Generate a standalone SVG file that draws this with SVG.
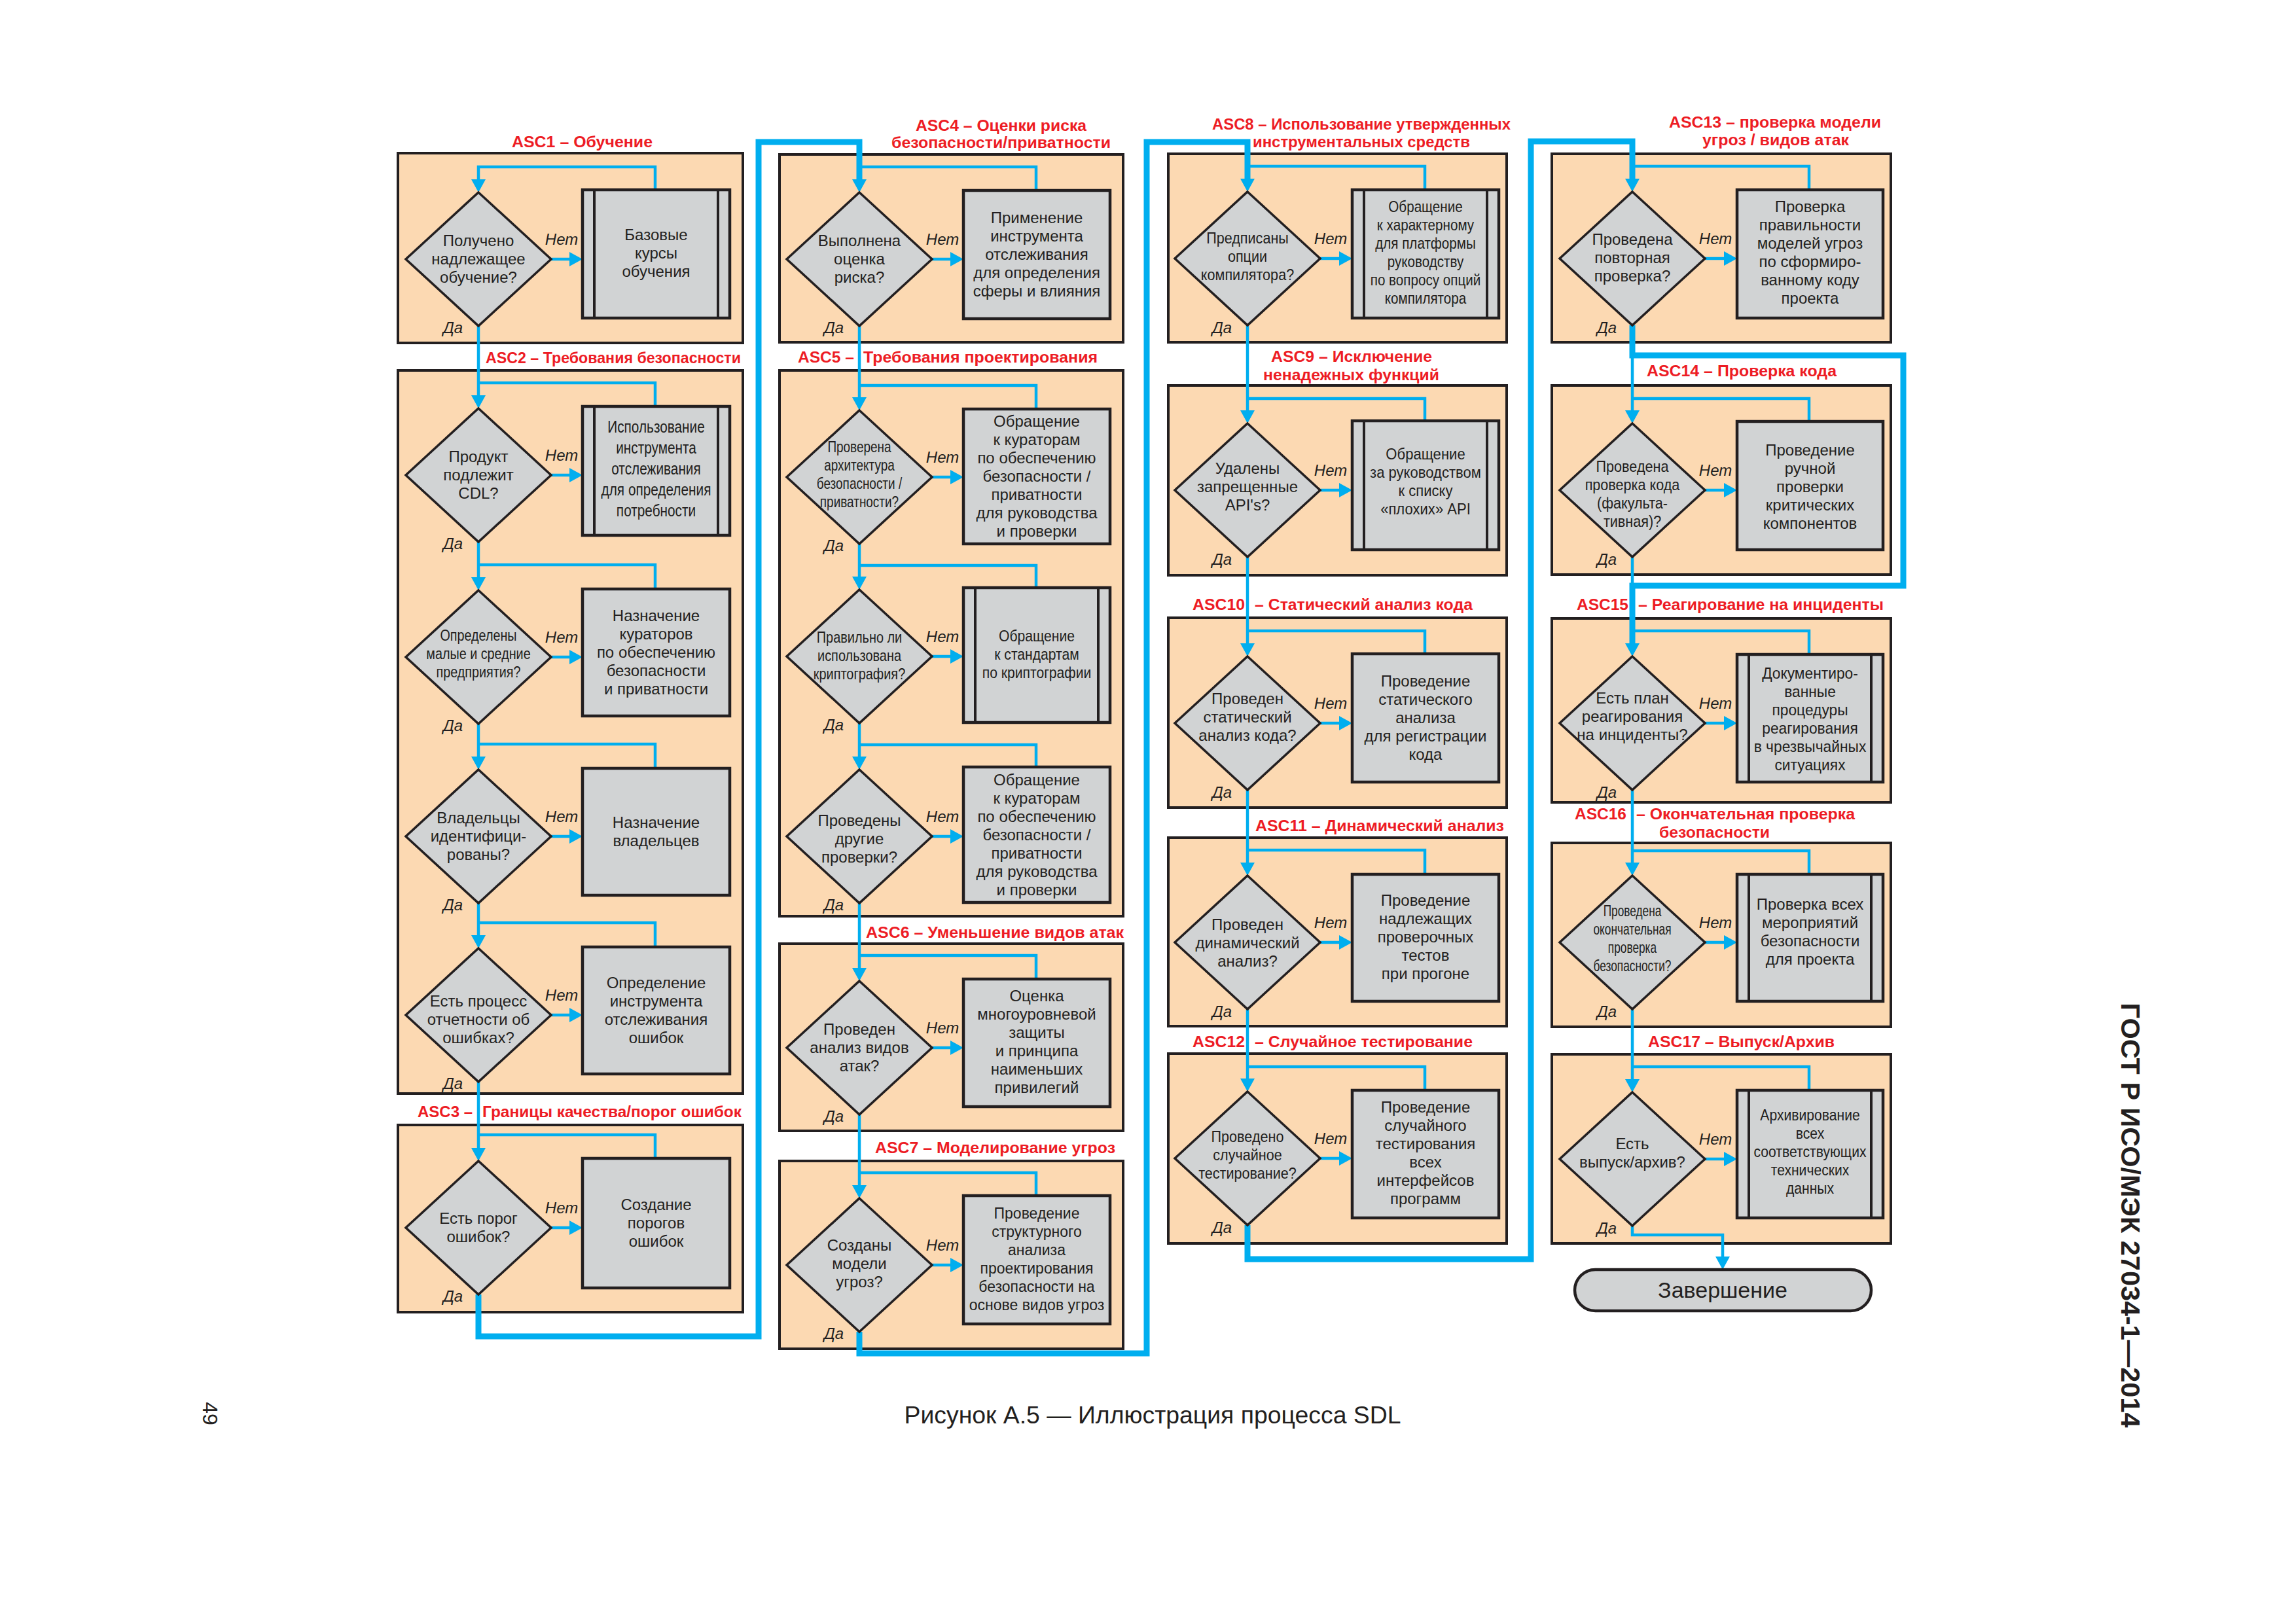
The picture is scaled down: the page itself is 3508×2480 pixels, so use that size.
<svg xmlns="http://www.w3.org/2000/svg" width="3508" height="2480" viewBox="0 0 3508 2480">
<defs>
<style>
.sec{fill:#FCD9B2;stroke:#231F20;stroke-width:4}
.dia{fill:#D1D3D4;stroke:#231F20;stroke-width:3.5}
.proc{fill:#D1D3D4;stroke:#231F20;stroke-width:4.5}
.bar{stroke:#231F20;stroke-width:4;fill:none}
.ttl{font-family:"Liberation Sans",Arial,sans-serif;font-weight:bold;font-size:24px;fill:#ED1C24}
.t{font-family:"Liberation Sans",Arial,sans-serif;font-size:24px;fill:#231F20;text-anchor:middle}
.lbl{font-family:"Liberation Sans",Arial,sans-serif;font-size:24px;font-style:italic;fill:#231F20;text-anchor:middle}
.c{fill:none;stroke:#00AEEF;stroke-width:4.5}
.ck{fill:none;stroke:#00AEEF;stroke-width:9}
.pg{font-family:"Liberation Sans",Arial,sans-serif;fill:#231F20}
</style>
<marker id="ah" markerUnits="userSpaceOnUse" markerWidth="20" markerHeight="22" refX="0" refY="11" orient="auto" viewBox="0 0 20 22"><path d="M0,0 L20,11 L0,22 z" fill="#00AEEF"/></marker>
</defs>
<rect width="3508" height="2480" fill="#FFFFFF"/>

<!-- sections -->
<g id="s1"><rect class="sec" x="608" y="234" width="527" height="290"/><text class="ttl" x="782" y="225" textLength="215" lengthAdjust="spacingAndGlyphs">ASC1 – Обучение</text></g>
<g id="s2"><rect class="sec" x="608" y="566" width="527" height="1105"/><text class="ttl" x="742" y="555" textLength="390" lengthAdjust="spacingAndGlyphs">ASC2 – Требования безопасности</text></g>
<g id="s3"><rect class="sec" x="608" y="1719" width="527" height="286"/><text class="ttl" x="638" y="1707" textLength="84" lengthAdjust="spacingAndGlyphs">ASC3 –</text><text class="ttl" x="737" y="1707" textLength="396" lengthAdjust="spacingAndGlyphs">Границы качества/порог ошибок</text></g>
<g id="s4"><rect class="sec" x="1191" y="236" width="525" height="287"/><text class="ttl" x="1399" y="200" textLength="261" lengthAdjust="spacingAndGlyphs">ASC4 – Оценки риска</text><text class="ttl" x="1362" y="226" textLength="335" lengthAdjust="spacingAndGlyphs">безопасности/приватности</text></g>
<g id="s5"><rect class="sec" x="1191" y="566" width="525" height="834"/><text class="ttl" x="1219" y="554" textLength="86" lengthAdjust="spacingAndGlyphs">ASC5 –</text><text class="ttl" x="1319" y="554" textLength="358" lengthAdjust="spacingAndGlyphs">Требования проектирования</text></g>
<g id="s6"><rect class="sec" x="1191" y="1442" width="525" height="286"/><text class="ttl" x="1323" y="1433" textLength="394" lengthAdjust="spacingAndGlyphs">ASC6 – Уменьшение видов атак</text></g>
<g id="s7"><rect class="sec" x="1191" y="1774" width="525" height="287"/><text class="ttl" x="1337" y="1762" textLength="367" lengthAdjust="spacingAndGlyphs">ASC7 – Моделирование угроз</text></g>
<g id="s8"><rect class="sec" x="1785" y="235" width="517" height="288"/><text class="ttl" x="1852" y="198" textLength="456" lengthAdjust="spacingAndGlyphs">ASC8 – Использование утвержденных</text><text class="ttl" x="1914" y="225" textLength="332" lengthAdjust="spacingAndGlyphs">инструментальных средств</text></g>
<g id="s9"><rect class="sec" x="1785" y="589" width="517" height="290"/><text class="ttl" x="1942" y="553" textLength="246" lengthAdjust="spacingAndGlyphs">ASC9 – Исключение</text><text class="ttl" x="1930" y="581" textLength="269" lengthAdjust="spacingAndGlyphs">ненадежных функций</text></g>
<g id="s10"><rect class="sec" x="1785" y="944" width="517" height="290"/><text class="ttl" x="1822" y="932" textLength="80" lengthAdjust="spacingAndGlyphs">ASC10</text><text class="ttl" x="1917" y="932" textLength="333" lengthAdjust="spacingAndGlyphs">– Статический анализ кода</text></g>
<g id="s11"><rect class="sec" x="1785" y="1280" width="517" height="288"/><text class="ttl" x="1918" y="1270" textLength="380" lengthAdjust="spacingAndGlyphs">ASC11 – Динамический анализ</text></g>
<g id="s12"><rect class="sec" x="1785" y="1610" width="517" height="290"/><text class="ttl" x="1822" y="1600" textLength="80" lengthAdjust="spacingAndGlyphs">ASC12</text><text class="ttl" x="1917" y="1600" textLength="333" lengthAdjust="spacingAndGlyphs">– Случайное тестирование</text></g>
<g id="s13"><rect class="sec" x="2371" y="235" width="518" height="288"/><text class="ttl" x="2550" y="195" textLength="324" lengthAdjust="spacingAndGlyphs">ASC13 – проверка модели</text><text class="ttl" x="2601" y="222" textLength="224" lengthAdjust="spacingAndGlyphs">угроз / видов атак</text></g>
<g id="s14"><rect class="sec" x="2371" y="589" width="518" height="289"/><text class="ttl" x="2516" y="575" textLength="290" lengthAdjust="spacingAndGlyphs">ASC14 – Проверка кода</text></g>
<g id="s15"><rect class="sec" x="2371" y="945" width="518" height="281"/><text class="ttl" x="2409" y="932" textLength="79" lengthAdjust="spacingAndGlyphs">ASC15</text><text class="ttl" x="2503" y="932" textLength="375" lengthAdjust="spacingAndGlyphs">– Реагирование на инциденты</text></g>
<g id="s16"><rect class="sec" x="2371" y="1288" width="518" height="281"/><text class="ttl" x="2406" y="1252" textLength="79" lengthAdjust="spacingAndGlyphs">ASC16</text><text class="ttl" x="2500" y="1252" textLength="334" lengthAdjust="spacingAndGlyphs">– Окончательная проверка</text><text class="ttl" x="2535" y="1280" textLength="169" lengthAdjust="spacingAndGlyphs">безопасности</text></g>
<g id="s17"><rect class="sec" x="2371" y="1611" width="518" height="289"/><text class="ttl" x="2518" y="1600" textLength="285" lengthAdjust="spacingAndGlyphs">ASC17 – Выпуск/Архив</text></g>

<!-- connectors -->
<g id="connectors">
<path class="c" d="M1001,290 V255 H731 V274" marker-end="url(#ah)"/>
<path class="c" d="M731,498 V604" marker-end="url(#ah)"/>
<path class="c" d="M1001,621 V585 H731"/>
<path class="c" d="M731,828 V882" marker-end="url(#ah)"/>
<path class="c" d="M1001,900 V863 H731"/>
<path class="c" d="M731,1106 V1156" marker-end="url(#ah)"/>
<path class="c" d="M1001,1174 V1137 H731"/>
<path class="c" d="M731,1380 V1429" marker-end="url(#ah)"/>
<path class="c" d="M1001,1447 V1410 H731"/>
<path class="c" d="M731,1653 V1754" marker-end="url(#ah)"/>
<path class="c" d="M1001,1770 V1734 H731"/>
<path class="c" d="M842,396 H870" marker-end="url(#ah)"/>
<path class="c" d="M842,726 H870" marker-end="url(#ah)"/>
<path class="c" d="M842,1004 H870" marker-end="url(#ah)"/>
<path class="c" d="M842,1278 H870" marker-end="url(#ah)"/>
<path class="c" d="M842,1551 H870" marker-end="url(#ah)"/>
<path class="c" d="M842,1876 H870" marker-end="url(#ah)"/>
<path class="ck" d="M731,1978 V2042 H1159 V217 H1313 V274" marker-end="url(#ah)"/>

<path class="c" d="M1583,291 V255 H1313"/>
<path class="c" d="M1313,498 V607" marker-end="url(#ah)"/>
<path class="c" d="M1583,625 V589 H1313"/>
<path class="c" d="M1313,831 V881" marker-end="url(#ah)"/>
<path class="c" d="M1583,898 V864 H1313"/>
<path class="c" d="M1313,1105 V1156" marker-end="url(#ah)"/>
<path class="c" d="M1583,1172 V1138 H1313"/>
<path class="c" d="M1313,1380 V1479" marker-end="url(#ah)"/>
<path class="c" d="M1583,1496 V1460 H1313"/>
<path class="c" d="M1313,1703 V1811" marker-end="url(#ah)"/>
<path class="c" d="M1583,1827 V1792 H1313"/>
<path class="c" d="M1424,396 H1452" marker-end="url(#ah)"/>
<path class="c" d="M1424,729 H1452" marker-end="url(#ah)"/>
<path class="c" d="M1424,1003 H1452" marker-end="url(#ah)"/>
<path class="c" d="M1424,1278 H1452" marker-end="url(#ah)"/>
<path class="c" d="M1424,1601 H1452" marker-end="url(#ah)"/>
<path class="c" d="M1424,1933 H1452" marker-end="url(#ah)"/>
<path class="ck" d="M1313,2035 V2068 H1752 V217 H1906 V273" marker-end="url(#ah)"/>

<path class="c" d="M2177,290 V254 H1906"/>
<path class="c" d="M1906,497 V627" marker-end="url(#ah)"/>
<path class="c" d="M2177,643 V609 H1906"/>
<path class="c" d="M1906,851 V983" marker-end="url(#ah)"/>
<path class="c" d="M2177,999 V964 H1906"/>
<path class="c" d="M1906,1207 V1318" marker-end="url(#ah)"/>
<path class="c" d="M2177,1336 V1299 H1906"/>
<path class="c" d="M1906,1542 V1648" marker-end="url(#ah)"/>
<path class="c" d="M2177,1666 V1630 H1906"/>
<path class="c" d="M2017,395 H2046" marker-end="url(#ah)"/>
<path class="c" d="M2017,749 H2046" marker-end="url(#ah)"/>
<path class="c" d="M2017,1105 H2046" marker-end="url(#ah)"/>
<path class="c" d="M2017,1440 H2046" marker-end="url(#ah)"/>
<path class="c" d="M2017,1770 H2046" marker-end="url(#ah)"/>
<path class="ck" d="M1906,1872 V1924 H2339 V216 H2494 V273" marker-end="url(#ah)"/>

<path class="c" d="M2764,290 V254 H2494"/>
<path class="c" d="M2494,543 V627" marker-end="url(#ah)"/>
<path class="c" d="M2764,644 V609 H2494"/>
<path class="c" d="M2494,851 V895"/>
<path class="ck" d="M2494,497 V543 H2908 V895 H2494 V983" marker-end="url(#ah)"/>
<path class="c" d="M2764,1000 V964 H2494"/>
<path class="c" d="M2494,1207 V1318" marker-end="url(#ah)"/>
<path class="c" d="M2764,1336 V1300 H2494"/>
<path class="c" d="M2494,1542 V1649" marker-end="url(#ah)"/>
<path class="c" d="M2764,1666 V1630 H2494"/>
<path class="c" d="M2494,1873 V1887 H2632 V1920" marker-end="url(#ah)"/>
<path class="c" d="M2605,395 H2634" marker-end="url(#ah)"/>
<path class="c" d="M2605,749 H2634" marker-end="url(#ah)"/>
<path class="c" d="M2605,1105 H2634" marker-end="url(#ah)"/>
<path class="c" d="M2605,1440 H2634" marker-end="url(#ah)"/>
<path class="c" d="M2605,1771 H2634" marker-end="url(#ah)"/>

<g class="lbl">
<text class="lbl" x="858" y="374">Нет</text><text class="lbl" x="692" y="509">Да</text>
<text class="lbl" x="858" y="704">Нет</text><text class="lbl" x="692" y="839">Да</text>
<text class="lbl" x="858" y="982">Нет</text><text class="lbl" x="692" y="1117">Да</text>
<text class="lbl" x="858" y="1256">Нет</text><text class="lbl" x="692" y="1391">Да</text>
<text class="lbl" x="858" y="1529">Нет</text><text class="lbl" x="692" y="1664">Да</text>
<text class="lbl" x="858" y="1854">Нет</text><text class="lbl" x="692" y="1989">Да</text>
<text class="lbl" x="1440" y="374">Нет</text><text class="lbl" x="1274" y="509">Да</text>
<text class="lbl" x="1440" y="707">Нет</text><text class="lbl" x="1274" y="842">Да</text>
<text class="lbl" x="1440" y="981">Нет</text><text class="lbl" x="1274" y="1116">Да</text>
<text class="lbl" x="1440" y="1256">Нет</text><text class="lbl" x="1274" y="1391">Да</text>
<text class="lbl" x="1440" y="1579">Нет</text><text class="lbl" x="1274" y="1714">Да</text>
<text class="lbl" x="1440" y="1911">Нет</text><text class="lbl" x="1274" y="2046">Да</text>
<text class="lbl" x="2033" y="373">Нет</text><text class="lbl" x="1867" y="509">Да</text>
<text class="lbl" x="2033" y="727">Нет</text><text class="lbl" x="1867" y="863">Да</text>
<text class="lbl" x="2033" y="1083">Нет</text><text class="lbl" x="1867" y="1219">Да</text>
<text class="lbl" x="2033" y="1418">Нет</text><text class="lbl" x="1867" y="1554">Да</text>
<text class="lbl" x="2033" y="1748">Нет</text><text class="lbl" x="1867" y="1884">Да</text>
<text class="lbl" x="2621" y="373">Нет</text><text class="lbl" x="2455" y="509">Да</text>
<text class="lbl" x="2621" y="727">Нет</text><text class="lbl" x="2455" y="863">Да</text>
<text class="lbl" x="2621" y="1083">Нет</text><text class="lbl" x="2455" y="1219">Да</text>
<text class="lbl" x="2621" y="1418">Нет</text><text class="lbl" x="2455" y="1554">Да</text>
<text class="lbl" x="2621" y="1749">Нет</text><text class="lbl" x="2455" y="1885">Да</text>
</g>
</g>

<!-- column 1 nodes -->
<g id="n1"><polygon class="dia" points="731,294 842,396 731,498 620,396"/><text class="t"><tspan x="731" y="376">Получено</tspan><tspan x="731" y="404">надлежащее</tspan><tspan x="731" y="432">обучение?</tspan></text></g>
<g id="p1"><rect class="proc" x="890" y="290" width="225" height="196"/><line class="bar" x1="908" y1="290" x2="908" y2="486"/><line class="bar" x1="1097" y1="290" x2="1097" y2="486"/><text class="t"><tspan x="1002.5" y="367">Базовые</tspan><tspan x="1002.5" y="395">курсы</tspan><tspan x="1002.5" y="423">обучения</tspan></text></g>
<g id="n2"><polygon class="dia" points="731,624 842,726 731,828 620,726"/><text class="t"><tspan x="731" y="706">Продукт</tspan><tspan x="731" y="734">подлежит</tspan><tspan x="731" y="762">CDL?</tspan></text></g>
<g id="p2"><rect class="proc" x="890" y="621" width="225" height="197"/><line class="bar" x1="908" y1="621" x2="908" y2="818"/><line class="bar" x1="1097" y1="621" x2="1097" y2="818"/><text class="t" style="font-size:26px" transform="translate(1002.5 0) scale(0.8 1)"><tspan x="0" y="661">Использование</tspan><tspan x="0" y="693">инструмента</tspan><tspan x="0" y="725">отслеживания</tspan><tspan x="0" y="757">для определения</tspan><tspan x="0" y="789">потребности</tspan></text></g>
<g id="n3"><polygon class="dia" points="731,902 842,1004 731,1106 620,1004"/><text class="t" style="font-size:23px" transform="translate(731 0) scale(0.86 1)"><tspan x="0" y="979">Определены</tspan><tspan x="0" y="1007">малые и средние</tspan><tspan x="0" y="1035">предприятия?</tspan></text></g>
<g id="p3"><rect class="proc" x="890" y="900" width="225" height="194"/><text class="t"><tspan x="1002.5" y="949">Назначение</tspan><tspan x="1002.5" y="977">кураторов</tspan><tspan x="1002.5" y="1005">по обеспечению</tspan><tspan x="1002.5" y="1033">безопасности</tspan><tspan x="1002.5" y="1061">и приватности</tspan></text></g>
<g id="n4"><polygon class="dia" points="731,1176 842,1278 731,1380 620,1278"/><text class="t"><tspan x="731" y="1258">Владельцы</tspan><tspan x="731" y="1286">идентифици-</tspan><tspan x="731" y="1314">рованы?</tspan></text></g>
<g id="p4"><rect class="proc" x="890" y="1174" width="225" height="194"/><text class="t"><tspan x="1002.5" y="1265">Назначение</tspan><tspan x="1002.5" y="1293">владельцев</tspan></text></g>
<g id="n5"><polygon class="dia" points="731,1449 842,1551 731,1653 620,1551"/><text class="t"><tspan x="731" y="1538">Есть процесс</tspan><tspan x="731" y="1566">отчетности об</tspan><tspan x="731" y="1594">ошибках?</tspan></text></g>
<g id="p5"><rect class="proc" x="890" y="1447" width="225" height="194"/><text class="t"><tspan x="1002.5" y="1510">Определение</tspan><tspan x="1002.5" y="1538">инструмента</tspan><tspan x="1002.5" y="1566">отслеживания</tspan><tspan x="1002.5" y="1594">ошибок</tspan></text></g>
<g id="n6"><polygon class="dia" points="731,1774 842,1876 731,1978 620,1876"/><text class="t"><tspan x="731" y="1870">Есть порог</tspan><tspan x="731" y="1898">ошибок?</tspan></text></g>
<g id="p6"><rect class="proc" x="890" y="1770" width="225" height="198"/><text class="t"><tspan x="1002.5" y="1849">Создание</tspan><tspan x="1002.5" y="1877">порогов</tspan><tspan x="1002.5" y="1905">ошибок</tspan></text></g>

<!-- column 2 nodes -->
<g id="n7"><polygon class="dia" points="1313,294 1424,396 1313,498 1202,396"/><text class="t"><tspan x="1313" y="376">Выполнена</tspan><tspan x="1313" y="404">оценка</tspan><tspan x="1313" y="432">риска?</tspan></text></g>
<g id="p7"><rect class="proc" x="1472" y="291" width="224" height="196"/><text class="t"><tspan x="1584" y="341">Применение</tspan><tspan x="1584" y="369">инструмента</tspan><tspan x="1584" y="397">отслеживания</tspan><tspan x="1584" y="425">для определения</tspan><tspan x="1584" y="453">сферы и влияния</tspan></text></g>
<g id="n8"><polygon class="dia" points="1313,627 1424,729 1313,831 1202,729"/><text class="t" transform="translate(1313 0) scale(0.79 1)"><tspan x="0" y="691">Проверена</tspan><tspan x="0" y="719">архитектура</tspan><tspan x="0" y="747">безопасности /</tspan><tspan x="0" y="775">приватности?</tspan></text></g>
<g id="p8"><rect class="proc" x="1472" y="625" width="224" height="206"/><text class="t"><tspan x="1584" y="652">Обращение</tspan><tspan x="1584" y="680">к кураторам</tspan><tspan x="1584" y="708">по обеспечению</tspan><tspan x="1584" y="736">безопасности /</tspan><tspan x="1584" y="764">приватности</tspan><tspan x="1584" y="792">для руководства</tspan><tspan x="1584" y="820">и проверки</tspan></text></g>
<g id="n9"><polygon class="dia" points="1313,901 1424,1003 1313,1105 1202,1003"/><text class="t" transform="translate(1313 0) scale(0.83 1)"><tspan x="0" y="982">Правильно ли</tspan><tspan x="0" y="1010">использована</tspan><tspan x="0" y="1038">криптография?</tspan></text></g>
<g id="p9"><rect class="proc" x="1472" y="898" width="224" height="206"/><line class="bar" x1="1490" y1="898" x2="1490" y2="1104"/><line class="bar" x1="1678" y1="898" x2="1678" y2="1104"/><text class="t" transform="translate(1584 0) scale(0.88 1)"><tspan x="0" y="980">Обращение</tspan><tspan x="0" y="1008">к стандартам</tspan><tspan x="0" y="1036">по криптографии</tspan></text></g>
<g id="n10"><polygon class="dia" points="1313,1176 1424,1278 1313,1380 1202,1278"/><text class="t"><tspan x="1313" y="1262">Проведены</tspan><tspan x="1313" y="1290">другие</tspan><tspan x="1313" y="1318">проверки?</tspan></text></g>
<g id="p10"><rect class="proc" x="1472" y="1172" width="224" height="207"/><text class="t"><tspan x="1584" y="1200">Обращение</tspan><tspan x="1584" y="1228">к кураторам</tspan><tspan x="1584" y="1256">по обеспечению</tspan><tspan x="1584" y="1284">безопасности /</tspan><tspan x="1584" y="1312">приватности</tspan><tspan x="1584" y="1340">для руководства</tspan><tspan x="1584" y="1368">и проверки</tspan></text></g>
<g id="n11"><polygon class="dia" points="1313,1499 1424,1601 1313,1703 1202,1601"/><text class="t"><tspan x="1313" y="1581">Проведен</tspan><tspan x="1313" y="1609">анализ видов</tspan><tspan x="1313" y="1637">атак?</tspan></text></g>
<g id="p11"><rect class="proc" x="1472" y="1496" width="224" height="195"/><text class="t"><tspan x="1584" y="1530">Оценка</tspan><tspan x="1584" y="1558">многоуровневой</tspan><tspan x="1584" y="1586">защиты</tspan><tspan x="1584" y="1614">и принципа</tspan><tspan x="1584" y="1642">наименьших</tspan><tspan x="1584" y="1670">привилегий</tspan></text></g>
<g id="n12"><polygon class="dia" points="1313,1831 1424,1933 1313,2035 1202,1933"/><text class="t"><tspan x="1313" y="1911">Созданы</tspan><tspan x="1313" y="1939">модели</tspan><tspan x="1313" y="1967">угроз?</tspan></text></g>
<g id="p12"><rect class="proc" x="1472" y="1827" width="224" height="196"/><text class="t" style="font-size:23px"><tspan x="1584" y="1862">Проведение</tspan><tspan x="1584" y="1890">структурного</tspan><tspan x="1584" y="1918">анализа</tspan><tspan x="1584" y="1946">проектирования</tspan><tspan x="1584" y="1974">безопасности на</tspan><tspan x="1584" y="2002">основе видов угроз</tspan></text></g>

<!-- column 3 nodes -->
<g id="n13"><polygon class="dia" points="1906,293 2017,395 1906,497 1795,395"/><text class="t" transform="translate(1906 0) scale(0.9 1)"><tspan x="0" y="372">Предписаны</tspan><tspan x="0" y="400">опции</tspan><tspan x="0" y="428">компилятора?</tspan></text></g>
<g id="p13"><rect class="proc" x="2066" y="290" width="224" height="196"/><line class="bar" x1="2084" y1="290" x2="2084" y2="486"/><line class="bar" x1="2272" y1="290" x2="2272" y2="486"/><text class="t" transform="translate(2178 0) scale(0.86 1)"><tspan x="0" y="324">Обращение</tspan><tspan x="0" y="352">к характерному</tspan><tspan x="0" y="380">для платформы</tspan><tspan x="0" y="408">руководству</tspan><tspan x="0" y="436">по вопросу опций</tspan><tspan x="0" y="464">компилятора</tspan></text></g>
<g id="n14"><polygon class="dia" points="1906,647 2017,749 1906,851 1795,749"/><text class="t"><tspan x="1906" y="724">Удалены</tspan><tspan x="1906" y="752">запрещенные</tspan><tspan x="1906" y="780">API's?</tspan></text></g>
<g id="p14"><rect class="proc" x="2066" y="643" width="224" height="197"/><line class="bar" x1="2084" y1="643" x2="2084" y2="840"/><line class="bar" x1="2272" y1="643" x2="2272" y2="840"/><text class="t" transform="translate(2178 0) scale(0.92 1)"><tspan x="0" y="702">Обращение</tspan><tspan x="0" y="730">за руководством</tspan><tspan x="0" y="758">к списку</tspan><tspan x="0" y="786">«плохих» API</tspan></text></g>
<g id="n15"><polygon class="dia" points="1906,1003 2017,1105 1906,1207 1795,1105"/><text class="t"><tspan x="1906" y="1076">Проведен</tspan><tspan x="1906" y="1104">статический</tspan><tspan x="1906" y="1132">анализ кода?</tspan></text></g>
<g id="p15"><rect class="proc" x="2066" y="999" width="224" height="196"/><text class="t"><tspan x="2178" y="1049">Проведение</tspan><tspan x="2178" y="1077">статического</tspan><tspan x="2178" y="1105">анализа</tspan><tspan x="2178" y="1133">для регистрации</tspan><tspan x="2178" y="1161">кода</tspan></text></g>
<g id="n16"><polygon class="dia" points="1906,1338 2017,1440 1906,1542 1795,1440"/><text class="t"><tspan x="1906" y="1421">Проведен</tspan><tspan x="1906" y="1449">динамический</tspan><tspan x="1906" y="1477">анализ?</tspan></text></g>
<g id="p16"><rect class="proc" x="2066" y="1336" width="224" height="194"/><text class="t"><tspan x="2178" y="1384">Проведение</tspan><tspan x="2178" y="1412">надлежащих</tspan><tspan x="2178" y="1440">проверочных</tspan><tspan x="2178" y="1468">тестов</tspan><tspan x="2178" y="1496">при прогоне</tspan></text></g>
<g id="n17"><polygon class="dia" points="1906,1668 2017,1770 1906,1872 1795,1770"/><text class="t" transform="translate(1906 0) scale(0.9 1)"><tspan x="0" y="1745">Проведено</tspan><tspan x="0" y="1773">случайное</tspan><tspan x="0" y="1801">тестирование?</tspan></text></g>
<g id="p17"><rect class="proc" x="2066" y="1666" width="224" height="195"/><text class="t"><tspan x="2178" y="1700">Проведение</tspan><tspan x="2178" y="1728">случайного</tspan><tspan x="2178" y="1756">тестирования</tspan><tspan x="2178" y="1784">всех</tspan><tspan x="2178" y="1812">интерфейсов</tspan><tspan x="2178" y="1840">программ</tspan></text></g>

<!-- column 4 nodes -->
<g id="n18"><polygon class="dia" points="2494,293 2605,395 2494,497 2383,395"/><text class="t"><tspan x="2494" y="374">Проведена</tspan><tspan x="2494" y="402">повторная</tspan><tspan x="2494" y="430">проверка?</tspan></text></g>
<g id="p18"><rect class="proc" x="2654" y="290" width="223" height="196"/><text class="t"><tspan x="2765.5" y="324">Проверка</tspan><tspan x="2765.5" y="352">правильности</tspan><tspan x="2765.5" y="380">моделей угроз</tspan><tspan x="2765.5" y="408">по сформиро-</tspan><tspan x="2765.5" y="436">ванному коду</tspan><tspan x="2765.5" y="464">проекта</tspan></text></g>
<g id="n19"><polygon class="dia" points="2494,647 2605,749 2494,851 2383,749"/><text class="t" transform="translate(2494 0) scale(0.9 1)"><tspan x="0" y="721">Проведена</tspan><tspan x="0" y="749">проверка кода</tspan><tspan x="0" y="777">(факульта-</tspan><tspan x="0" y="805">тивная)?</tspan></text></g>
<g id="p19"><rect class="proc" x="2654" y="644" width="223" height="196"/><text class="t"><tspan x="2765.5" y="696">Проведение</tspan><tspan x="2765.5" y="724">ручной</tspan><tspan x="2765.5" y="752">проверки</tspan><tspan x="2765.5" y="780">критических</tspan><tspan x="2765.5" y="808">компонентов</tspan></text></g>
<g id="n20"><polygon class="dia" points="2494,1003 2605,1105 2494,1207 2383,1105"/><text class="t"><tspan x="2494" y="1075">Есть план</tspan><tspan x="2494" y="1103">реагирования</tspan><tspan x="2494" y="1131">на инциденты?</tspan></text></g>
<g id="p20"><rect class="proc" x="2654" y="1000" width="223" height="195"/><line class="bar" x1="2672" y1="1000" x2="2672" y2="1195"/><line class="bar" x1="2859" y1="1000" x2="2859" y2="1195"/><text class="t" transform="translate(2765.5 0) scale(0.95 1)"><tspan x="0" y="1037">Документиро-</tspan><tspan x="0" y="1065">ванные</tspan><tspan x="0" y="1093">процедуры</tspan><tspan x="0" y="1121">реагирования</tspan><tspan x="0" y="1149">в чрезвычайных</tspan><tspan x="0" y="1177">ситуациях</tspan></text></g>
<g id="n21"><polygon class="dia" points="2494,1338 2605,1440 2494,1542 2383,1440"/><text class="t" transform="translate(2494 0) scale(0.72 1)"><tspan x="0" y="1400">Проведена</tspan><tspan x="0" y="1428">окончательная</tspan><tspan x="0" y="1456">проверка</tspan><tspan x="0" y="1484">безопасности?</tspan></text></g>
<g id="p21"><rect class="proc" x="2654" y="1336" width="223" height="194"/><line class="bar" x1="2672" y1="1336" x2="2672" y2="1530"/><line class="bar" x1="2859" y1="1336" x2="2859" y2="1530"/><text class="t"><tspan x="2765.5" y="1390">Проверка всех</tspan><tspan x="2765.5" y="1418">мероприятий</tspan><tspan x="2765.5" y="1446">безопасности</tspan><tspan x="2765.5" y="1474">для проекта</tspan></text></g>
<g id="n22"><polygon class="dia" points="2494,1669 2605,1771 2494,1873 2383,1771"/><text class="t"><tspan x="2494" y="1756">Есть</tspan><tspan x="2494" y="1784">выпуск/архив?</tspan></text></g>
<g id="p22"><rect class="proc" x="2654" y="1666" width="223" height="195"/><line class="bar" x1="2672" y1="1666" x2="2672" y2="1861"/><line class="bar" x1="2859" y1="1666" x2="2859" y2="1861"/><text class="t" transform="translate(2765.5 0) scale(0.88 1)"><tspan x="0" y="1712">Архивирование</tspan><tspan x="0" y="1740">всех</tspan><tspan x="0" y="1768">соответствующих</tspan><tspan x="0" y="1796">технических</tspan><tspan x="0" y="1824">данных</tspan></text></g>

<g id="end"><rect class="proc" x="2406" y="1940" width="453" height="63" rx="31.5" ry="31.5"/><text class="t" style="font-size:34px" x="2632" y="1983">Завершение</text></g>

<!-- page texts -->
<text class="pg" x="1761" y="2175" style="font-size:36px" text-anchor="middle" textLength="759" lengthAdjust="spacingAndGlyphs">Рисунок А.5 — Иллюстрация процесса SDL</text>
<text class="pg" transform="translate(3241 1857) rotate(90)" style="font-size:40px;font-weight:bold" text-anchor="middle" textLength="649" lengthAdjust="spacingAndGlyphs">ГОСТ Р ИСО/МЭК 27034-1—2014</text>
<text class="pg" transform="translate(310 2160) rotate(90)" style="font-size:32px" text-anchor="middle">49</text>
</svg>
